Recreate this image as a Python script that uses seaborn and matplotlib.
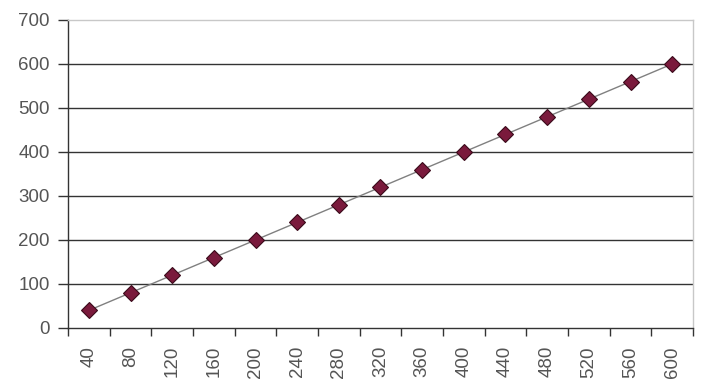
import matplotlib
matplotlib.use("Agg")
import matplotlib.pyplot as plt
import seaborn as sns
import pandas as pd
import numpy as np

categories = ["40", "80", "120", "160", "200", "240", "280", "320", "360", "400",
              "440", "480", "520", "560", "600"]
values = [40, 80, 120, 160, 200, 240, 280, 320, 360, 400, 440, 480, 520, 560, 600]
y_ticks = [0, 100, 200, 300, 400, 500, 600, 700]

sns.set_style("white")
plt.rcParams['font.family'] = ['Liberation Sans', 'DejaVu Sans']

df = pd.DataFrame({"cat": categories, "val": values})

fig = plt.figure(figsize=(7.26, 3.86), dpi=100)
ax = fig.add_axes([68/726, 1-328/386, (693-68)/726, (328-20)/386])

# gridlines
for yv in y_ticks[1:-1]:
    ax.axhline(yv, color="#333333", lw=1.0, zorder=1)

sns.lineplot(data=df, x="cat", y="val", ax=ax, color="#808080", lw=1.0,
             marker="D", markersize=8, markerfacecolor="#7a1a3c",
             markeredgecolor="#3a0a1a", markeredgewidth=0.8, sort=False, zorder=3)

ax.set_xlim(-0.5, len(categories) - 0.5)
ax.set_ylim(0, 700)
ax.set_yticks(y_ticks)
ax.set_yticklabels([str(v) for v in y_ticks])
ax.set_xticks(range(len(categories)))
ax.set_xticklabels(categories, rotation=90)
ax.set_xticks(np.arange(-0.5, len(categories), 1.0), minor=True)
ax.tick_params(axis="x", which="major", length=0, pad=13, labelsize=13.5, labelcolor="#555555")
ax.tick_params(axis="x", which="minor", length=6, width=1.0, color="#333333", direction="out", bottom=True)
ax.tick_params(axis="y", length=7, width=1.0, color="#333333", direction="out", left=True,
               labelsize=13.5, labelcolor="#555555", pad=6)
ax.set_xlabel("")
ax.set_ylabel("")

for s in ["left", "bottom"]:
    ax.spines[s].set_color("#333333")
    ax.spines[s].set_linewidth(1.0)
for s in ["top", "right"]:
    ax.spines[s].set_color("#c8c8c8")
    ax.spines[s].set_linewidth(1.0)
    ax.spines[s].set_visible(True)

fig.savefig("out.png", dpi=100)
